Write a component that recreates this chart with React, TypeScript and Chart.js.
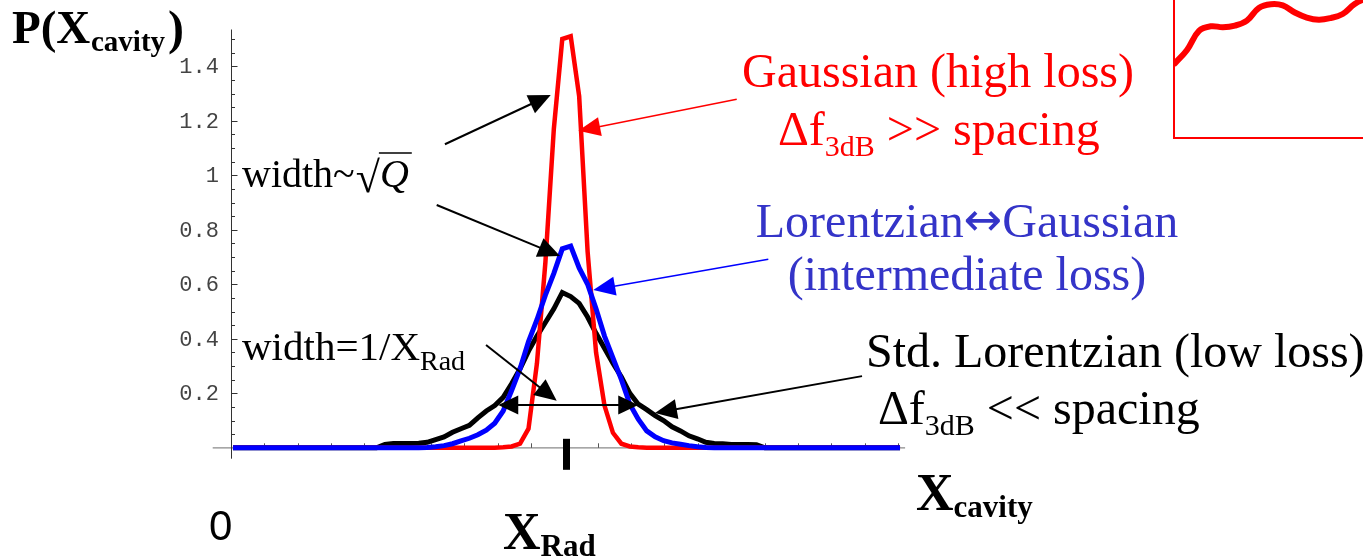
import { useEffect, useRef } from "react";
import { Chart, registerables } from "chart.js";

Chart.register(...registerables);

// Distribution of the cavity coordinate, sampled on an even grid (sample index 0..79).
const GAUSSIAN_HIGH_LOSS = [
  0, 0, 0, 0, 0, 0, 0, 0, 0, 0, 0, 0, 0, 0, 0, 0, 0, 0, 0, 0,
  0, 0, 0, 0, 0, 0, 0, 0, 0, 0, 0, 0,
  0.002, 0.005, 0.015, 0.07, 0.31, 0.68, 1.17, 1.5, 1.51, 1.29,
  0.72, 0.35, 0.155, 0.055, 0.015, 0.005, 0.002,
  0, 0, 0, 0, 0, 0, 0, 0, 0, 0, 0, 0, 0, 0, 0, 0, 0, 0, 0, 0,
  0, 0, 0, 0, 0, 0, 0, 0, 0, 0, 0,
];

const INTERMEDIATE_LOSS = [
  0, 0, 0, 0, 0, 0, 0, 0, 0, 0, 0, 0, 0, 0, 0, 0, 0, 0, 0, 0,
  0, 0, 0,
  0.001, 0.004, 0.008, 0.015, 0.025, 0.035, 0.048, 0.065, 0.09, 0.135,
  0.21, 0.29, 0.39, 0.47, 0.56, 0.64, 0.73, 0.74, 0.66, 0.6,
  0.51, 0.41, 0.33, 0.25, 0.16, 0.105, 0.062, 0.04, 0.026, 0.018,
  0.013, 0.008, 0.004, 0.001,
  0, 0, 0, 0, 0, 0, 0, 0, 0, 0, 0, 0, 0, 0, 0, 0, 0, 0, 0, 0,
  0, 0, 0,
];

const LORENTZIAN_LOW_LOSS = [
  0, 0, 0, 0, 0, 0, 0, 0, 0, 0, 0, 0, 0, 0, 0, 0, 0, 0,
  0.012, 0.016, 0.016, 0.016, 0.017, 0.02, 0.03, 0.04, 0.057, 0.07,
  0.082, 0.11, 0.135, 0.155, 0.185, 0.235, 0.29, 0.355, 0.41, 0.46,
  0.51, 0.57, 0.555, 0.53, 0.48, 0.42, 0.365, 0.31, 0.26, 0.2,
  0.16, 0.14, 0.118, 0.1, 0.077, 0.062, 0.044, 0.033, 0.02, 0.016,
  0.015, 0.012, 0.012, 0.012, 0.011,
  0, 0, 0, 0, 0, 0, 0, 0, 0, 0, 0, 0, 0, 0, 0, 0, 0,
];

const Y_TICK_VALUES = [0.2, 0.4, 0.6, 0.8, 1, 1.2, 1.4];
const Y_TICK_LABELS = ["0.2", "0.4", "0.6", "0.8", "1", "1.2", "1.4"];

// Small red trace in the corner box.
const INSET_TRACE = [
  44.5, 52.4, 63.7, 66.5, 65.9, 66.9, 69.9, 77.4, 79.6, 78.9, 74.7, 71.7,
  70.4, 71.4, 73.8, 79.8, 83.3,
];

const SERIF = '"Liberation Serif", "Times New Roman", serif';
const SANS = '"Liberation Sans", Arial, sans-serif';
const MONO = '"Liberation Mono", "Courier New", monospace';
const ARROW_FONT = '"DejaVu Sans", sans-serif';

const RED = "#ff0000";
const BLUE = "#0000ff";
const TEXT_BLUE = "#3434c8";

const Y_AXIS_AT = -0.25; // sample-index position of the vertical axis
const X_TICK_STEP = 3.95;
const X_RAD_AT = 39.5;

type Run = { t: string; size: number; weight?: string; style?: string; dy?: number; family?: string };

function fontOf(r: Run) {
  return `${r.style ?? "normal"} ${r.weight ?? "normal"} ${r.size}px ${r.family ?? SERIF}`;
}

function drawRuns(
  ctx: CanvasRenderingContext2D,
  runs: Run[],
  x: number,
  y: number,
  color: string,
  align: "left" | "center" = "left"
) {
  let total = 0;
  for (const r of runs) {
    ctx.font = fontOf(r);
    total += ctx.measureText(r.t).width;
  }
  let cx = align === "center" ? x - total / 2 : x;
  ctx.fillStyle = color;
  ctx.textAlign = "left";
  ctx.textBaseline = "alphabetic";
  for (const r of runs) {
    ctx.font = fontOf(r);
    ctx.fillText(r.t, cx, y + (r.dy ?? 0));
    cx += ctx.measureText(r.t).width;
  }
  return cx;
}

function arrow(
  ctx: CanvasRenderingContext2D,
  x0: number,
  y0: number,
  x1: number,
  y1: number,
  color: string,
  width: number,
  len: number,
  half: number,
  both = false
) {
  const dx = x1 - x0;
  const dy = y1 - y0;
  const d = Math.hypot(dx, dy);
  const ux = dx / d;
  const uy = dy / d;
  const px = -uy;
  const py = ux;
  ctx.strokeStyle = color;
  ctx.fillStyle = color;
  ctx.lineWidth = width;
  ctx.beginPath();
  ctx.moveTo(both ? x0 + ux * len * 0.9 : x0, both ? y0 + uy * len * 0.9 : y0);
  ctx.lineTo(x1 - ux * len * 0.9, y1 - uy * len * 0.9);
  ctx.stroke();
  const head = (tx: number, ty: number, sx: number, sy: number) => {
    const bx = tx - sx * len;
    const by = ty - sy * len;
    ctx.beginPath();
    ctx.moveTo(tx, ty);
    ctx.lineTo(bx + px * half, by + py * half);
    ctx.lineTo(bx - px * half, by - py * half);
    ctx.closePath();
    ctx.fill();
  };
  head(x1, y1, ux, uy);
  if (both) head(x0, y0, -ux, -uy);
}

const plotDecor = {
  id: "plotDecor",
  beforeDatasetsDraw(chart: any) {
    const { ctx, chartArea, scales } = chart;
    const xs = scales.x;
    const ys = scales.y;
    const axisX = xs.getPixelForValue(Y_AXIS_AT);
    const zeroY = ys.getPixelForValue(0);
    ctx.save();
    // horizontal axis
    ctx.strokeStyle = "#8a8a8a";
    ctx.lineWidth = 1.3;
    ctx.beginPath();
    ctx.moveTo(chartArea.left, zeroY);
    ctx.lineTo(chartArea.right, zeroY);
    ctx.stroke();
    ctx.strokeStyle = "#555";
    ctx.lineWidth = 1;
    for (let k = 1; k <= 20; k++) {
      const tx = Math.round(xs.getPixelForValue(Y_AXIS_AT + k * X_TICK_STEP)) + 0.5;
      ctx.beginPath();
      ctx.moveTo(tx, zeroY);
      ctx.lineTo(tx, zeroY - 4.5);
      ctx.stroke();
    }
    // vertical axis
    const ax = Math.round(axisX) + 0.5;
    ctx.strokeStyle = "#333";
    ctx.lineWidth = 1;
    ctx.beginPath();
    ctx.moveTo(ax, chartArea.top);
    ctx.lineTo(ax, chartArea.bottom);
    ctx.stroke();
    for (let k = 1; k <= 30; k++) {
      const v = k * 0.05;
      const major = k % 4 === 0;
      const ty = Math.round(ys.getPixelForValue(v)) + 0.5;
      ctx.beginPath();
      ctx.moveTo(ax, ty);
      ctx.lineTo(ax + (major ? 6 : 3.5), ty);
      ctx.stroke();
    }
    ctx.fillStyle = "#444";
    ctx.font = `22px ${MONO}`;
    ctx.textAlign = "right";
    ctx.textBaseline = "middle";
    Y_TICK_VALUES.forEach((v, i) => {
      ctx.fillText(Y_TICK_LABELS[i], axisX - 12, ys.getPixelForValue(v) + 1);
    });
    ctx.restore();
  },
  afterDatasetsDraw(chart: any) {
    const { ctx, scales } = chart;
    const xs = scales.x;
    const ys = scales.y;
    const P = (x: number, y: number): [number, number] => [xs.getPixelForValue(x), ys.getPixelForValue(y)];
    ctx.save();
    ctx.lineCap = "butt";

    // resonance position marker
    const [mx, my] = P(X_RAD_AT, 0);
    ctx.fillStyle = "#000";
    ctx.fillRect(mx - 3.5, my - 9, 7, 31);

    // arrows
    const a1 = [...P(25.1, 1.114), ...P(37.63, 1.295)] as number[];
    arrow(ctx, a1[0], a1[1], a1[2], a1[3], "#000", 2, 22, 10);
    const a2 = [...P(24.13, 0.891), ...P(38.73, 0.704)] as number[];
    arrow(ctx, a2[0], a2[1], a2[2], a2[3], "#000", 2, 22, 10);
    const a3 = [...P(29.97, 0.377), ...P(38.34, 0.173)] as number[];
    arrow(ctx, a3[0], a3[1], a3[2], a3[3], "#000", 2, 22, 10);
    const a4 = [...P(31.42, 0.157), ...P(48.0, 0.157)] as number[];
    arrow(ctx, a4[0], a4[1], a4[2], a4[3], "#000", 2, 20, 9.5, true);
    const a5 = [...P(74.5, 0.263), ...P(49.98, 0.128)] as number[];
    arrow(ctx, a5[0], a5[1], a5[2], a5[3], "#000", 2, 22, 10);
    const a6 = [...P(59.66, 1.279), ...P(40.9, 1.163)] as number[];
    arrow(ctx, a6[0], a6[1], a6[2], a6[3], RED, 1.6, 22, 9.5);
    const a7 = [...P(63.4, 0.692), ...P(42.67, 0.579)] as number[];
    arrow(ctx, a7[0], a7[1], a7[2], a7[3], BLUE, 1.6, 22, 9.5);
    ctx.restore();
  },
  afterDraw(chart: any) {
    const { ctx } = chart;
    ctx.save();
    // axis titles
    drawRuns(ctx, [{ t: "P(X", size: 47, weight: "bold" }], 12, 43, "#000");
    drawRuns(ctx, [{ t: "cavity", size: 29, weight: "bold" }], 91, 51, "#000");
    drawRuns(ctx, [{ t: ")", size: 48, weight: "bold" }], 168, 44, "#000");
    drawRuns(ctx, [{ t: "X", size: 52, weight: "bold" }, { t: "cavity", size: 31, weight: "bold", dy: 7 }], 916, 510, "#000");
    drawRuns(ctx, [{ t: "X", size: 52, weight: "bold" }, { t: "Rad", size: 31, weight: "bold", dy: 7 }], 503, 549, "#000");
    drawRuns(ctx, [{ t: "0", size: 42, family: SANS }], 209, 540, "#000");

    // width labels
    const end = drawRuns(ctx, [{ t: "width~", size: 40 }], 242, 187, "#000");
    const rootEnd = drawRuns(ctx, [{ t: "\u221A", size: 44 }], end + 1, 192, "#000");
    const qEnd = drawRuns(ctx, [{ t: "Q", size: 40, style: "italic" }], rootEnd, 187, "#000");
    ctx.strokeStyle = "#000";
    ctx.lineWidth = 1.5;
    ctx.beginPath();
    ctx.moveTo(rootEnd - 1, 153);
    ctx.lineTo(qEnd + 3, 153);
    ctx.stroke();
    drawRuns(ctx, [{ t: "width=1/X", size: 41 }, { t: "Rad", size: 28, dy: 10 }], 242, 360, "#000");

    // curve descriptions
    drawRuns(ctx, [{ t: "Gaussian (high loss)", size: 48 }], 938, 87, RED, "center");
    drawRuns(ctx, [{ t: "\u0394f", size: 48 }, { t: "3dB", size: 30, dy: 11 }, { t: " >> spacing", size: 48 }], 778, 145, RED);
    drawRuns(
      ctx,
      [
        { t: "Lorentzian", size: 48 },
        { t: "\u2194", size: 46, family: ARROW_FONT, dy: -2 },
        { t: "Gaussian", size: 48 },
      ],
      967,
      237,
      TEXT_BLUE,
      "center"
    );
    drawRuns(ctx, [{ t: "(intermediate loss)", size: 48 }], 967, 290, TEXT_BLUE, "center");
    drawRuns(ctx, [{ t: "Std. Lorentzian (low loss)", size: 48 }], 866, 367, "#000");
    drawRuns(ctx, [{ t: "\u0394f", size: 48 }, { t: "3dB", size: 30, dy: 11 }, { t: " << spacing", size: 48 }], 878, 424, "#000");
    ctx.restore();
  },
};

const insetFrame = {
  id: "insetFrame",
  afterDraw(chart: any) {
    const { ctx, chartArea, scales } = chart;
    const baseY = scales.y.getPixelForValue(0);
    ctx.save();
    ctx.strokeStyle = RED;
    ctx.lineWidth = 2;
    ctx.beginPath();
    ctx.moveTo(chartArea.left + 1, chartArea.top);
    ctx.lineTo(chartArea.left + 1, baseY);
    ctx.lineTo(chartArea.right, baseY);
    ctx.stroke();
    ctx.restore();
  },
};

export default function App() {
  const mainRef = useRef<HTMLCanvasElement | null>(null);
  const insetRef = useRef<HTMLCanvasElement | null>(null);

  useEffect(() => {
    if (!mainRef.current || !insetRef.current) return;
    const toPoints = (arr: number[]) => arr.map((y, i) => ({ x: i, y }));
    const main = new Chart(mainRef.current, {
      type: "line",
      data: {
        datasets: [
          {
            label: "Lorentzian\u2194Gaussian (intermediate loss)",
            data: toPoints(INTERMEDIATE_LOSS),
            borderColor: BLUE,
            borderWidth: 5,
            order: 1,
          },
          {
            label: "Gaussian (high loss)",
            data: toPoints(GAUSSIAN_HIGH_LOSS),
            borderColor: RED,
            borderWidth: 4.5,
            order: 2,
          },
          {
            label: "Std. Lorentzian (low loss)",
            data: toPoints(LORENTZIAN_LOW_LOSS),
            borderColor: "#000",
            borderWidth: 5,
            order: 3,
          },
        ],
      },
      options: {
        animation: false,
        responsive: true,
        maintainAspectRatio: false,
        events: [],
        layout: { padding: { left: 212.7, right: 457.9, top: 29.5, bottom: 101.3 } },
        plugins: { legend: { display: false }, tooltip: { enabled: false } },
        elements: { point: { radius: 0 }, line: { tension: 0, fill: false } },
        scales: {
          x: { type: "linear", min: -2.4, max: 79.6, display: false },
          y: { type: "linear", min: -0.04, max: 1.535, display: false },
        },
      },
      plugins: [plotDecor],
    });

    const inset = new Chart(insetRef.current, {
      type: "line",
      data: {
        datasets: [
          {
            data: INSET_TRACE.map((y, i) => ({ x: i, y })),
            borderColor: RED,
            borderWidth: 6,
            tension: 0.4,
            borderCapStyle: "round",
          },
        ],
      },
      options: {
        animation: false,
        responsive: true,
        maintainAspectRatio: false,
        events: [],
        layout: { padding: 0 },
        plugins: { legend: { display: false }, tooltip: { enabled: false } },
        elements: { point: { radius: 0 } },
        scales: {
          x: { type: "linear", min: -0.17, max: 18.2, display: false },
          y: { type: "linear", min: -0.6, max: 100, display: false },
        },
      },
      plugins: [insetFrame],
    });

    return () => {
      main.destroy();
      inset.destroy();
    };
  }, []);

  return (
    <div
      style={{
        position: "fixed",
        left: 0,
        top: 0,
        width: 1363,
        height: 560,
        overflow: "hidden",
        background: "#fff",
      }}
    >
      <div style={{ position: "absolute", left: 0, top: 0, width: 1363, height: 560 }}>
        <canvas ref={mainRef} />
      </div>
      <div style={{ position: "absolute", left: 1173, top: -30, width: 220, height: 169 }}>
        <canvas ref={insetRef} />
      </div>
    </div>
  );
}
